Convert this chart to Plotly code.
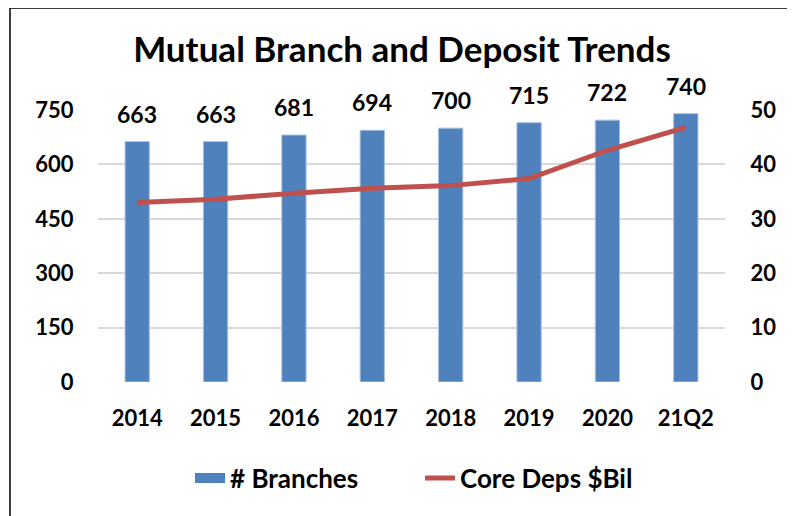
import plotly.graph_objects as go

categories = ["2014", "2015", "2016", "2017", "2018", "2019", "2020", "21Q2"]
branches = [663, 663, 681, 694, 700, 715, 722, 740]
core_deps = [33.0, 33.6, 34.7, 35.6, 36.1, 37.4, 42.6, 46.8]
left_ticks = [0, 150, 300, 450, 600, 750]
right_ticks = [0, 10, 20, 30, 40, 50]

FONT = "Lato"
OFF = 8  # page body margin
W, H = 795, 516
ml, mr, mt, mb = 98 - OFF, 70 + OFF, 110 - OFF, 134 + OFF
pw = W - ml - mr
ph = H - mt - mb
BLUE = "#4F81BD"
RED = "#C0504D"

def bold(size):
    return dict(family=FONT, size=size, color="black", weight="bold")

fig = go.Figure()
fig.add_trace(go.Bar(
    x=categories, y=branches, name="# Branches", legendgroup="b",
    showlegend=False,
    marker=dict(color=BLUE, line=dict(color="#A9C1E0", width=1)),
    width=0.31,
))
# legend proxy giving a wide rectangular swatch like the reference
fig.add_trace(go.Scatter(
    x=[None], y=[None], name="# Branches", legendgroup="b",
    mode="lines", line=dict(color=BLUE, width=17), hoverinfo="skip",
))
fig.add_trace(go.Scatter(
    x=categories, y=core_deps, name="Core Deps $Bil", yaxis="y2",
    mode="lines", line=dict(color=RED, width=5),
))

for i, v in enumerate(branches):
    fig.add_annotation(x=i, y=v, xref="x", yref="y", text=str(v), showarrow=False,
                       yshift=28, font=bold(23))

def px_x(px):
    return (px - OFF - ml) / pw

def px_y(py):
    return (H - mb - (py - OFF)) / ph

fig.add_shape(type="rect", xref="paper", yref="paper",
              x0=px_x(10), x1=px_x(789), y0=px_y(530), y1=px_y(8),
              line=dict(color="black", width=1.5), layer="below")

fig.update_layout(
    width=W, height=H,
    margin=dict(l=ml, r=mr, t=mt, b=mb, autoexpand=False),
    paper_bgcolor="white", plot_bgcolor="white",
    title=dict(text="Mutual Branch and Deposit Trends", x=px_x(402), xref="paper",
               xanchor="center", y=(H - (50 - OFF)) / H, yanchor="middle",
               font=bold(35)),
    font=dict(family=FONT, color="black"),
    showlegend=True,
    legend=dict(orientation="h", x=px_x(190), xanchor="left",
                y=px_y(478), yanchor="middle",
                font=bold(26), entrywidth=185, entrywidthmode="pixels"),
    xaxis=dict(type="category", categoryarray=categories, categoryorder="array",
               range=[-0.5, len(categories) - 0.5],
               showgrid=False, showline=False, zeroline=False,
               ticks="outside", ticklen=17, tickcolor="rgba(0,0,0,0)",
               tickfont=bold(22)),
    yaxis=dict(range=[0, 750], tickvals=left_ticks, showgrid=True,
               gridcolor="#D9D9D9", gridwidth=1.5, zeroline=False, showline=False,
               ticks="outside", ticklen=19, tickcolor="rgba(0,0,0,0)",
               tickfont=bold(22)),
    yaxis2=dict(range=[0, 50], tickvals=right_ticks, overlaying="y", side="right",
                showgrid=False, zeroline=False, showline=False,
                ticks="outside", ticklen=20, tickcolor="rgba(0,0,0,0)",
                tickfont=bold(22)),
)
fig.write_html("out.html")
